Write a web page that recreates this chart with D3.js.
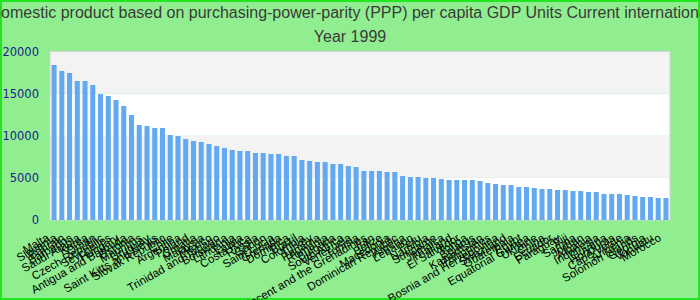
<!DOCTYPE html>
<html>
<head>
<meta charset="utf-8">
<script src="https://cdn.jsdelivr.net/npm/d3@7"></script>
<style>
  html, body { margin: 0; padding: 0; background: #90ee90; }
  svg { display: block; font-family: "Liberation Sans", Arial, sans-serif; }
</style>
</head>
<body>
<svg></svg>
<script>
// Chart data
const titleText = "Gross domestic product based on purchasing-power-parity (PPP) per capita GDP Units Current international dollar";
const subtitleText = "Year 1999";

const countries = [
  "Malta", "Slovenia", "Bahrain", "Barbados", "Saudi Arabia", "Korea", "Oman", "Czech Republic",
  "Seychelles", "Hungary", "Antigua and Barbuda", "Estonia", "Mauritius", "Uruguay",
  "Saint Kitts and Nevis", "Slovak Republic", "Chile", "Argentina", "Poland", "Croatia",
  "Malaysia", "Mexico", "Trinidad and Tobago", "Botswana", "Lithuania", "Latvia", "Costa Rica",
  "Russia", "Gabon", "Saint Lucia", "Grenada", "Dominica", "Brazil", "Colombia", "Turkey",
  "Panama", "Romania", "Bulgaria", "South Africa", "Venezuela", "Tunisia",
  "Saint Vincent and the Grenadines", "Iran", "Belize", "Macedonia", "Dominican Republic",
  "Algeria", "Lebanon", "Peru", "Namibia", "Suriname", "Jamaica", "Thailand", "El Salvador",
  "Tonga", "Belarus", "Kazakhstan", "Philippines", "Bosnia and Herzegovina", "Swaziland",
  "Guatemala", "Egypt", "Equatorial Guinea", "Ukraine", "China", "Ecuador", "Paraguay", "Fiji",
  "Samoa", "Jordan", "Albania", "Indonesia", "Guyana", "Honduras", "Cape Verde", "Armenia",
  "Solomon Islands", "Georgia", "Vanuatu", "Morocco"
];

const gdpValues = [
  18400, 17690, 17450, 16500, 16500, 16020, 14950, 14720, 14240, 13530,
  12460, 11280, 11160, 10920, 10920, 10090, 9970, 9610, 9380, 9260,
  9020, 8780, 8550, 8310, 8190, 8190, 7950, 7950, 7830, 7830,
  7600, 7600, 7120, 7000, 6880, 6880, 6650, 6650, 6410, 6290,
  5820, 5820, 5820, 5700, 5700, 5220, 5100, 5100, 4990, 4990,
  4870, 4750, 4750, 4750, 4750, 4630, 4390, 4270, 4150, 4150,
  3920, 3920, 3800, 3680, 3680, 3560, 3560, 3440, 3440, 3320,
  3320, 3090, 3090, 3090, 2970, 2850, 2730, 2730, 2610, 2610
];

const yTicks = [0, 5000, 10000, 15000, 20000];

const data = countries.map((name, i) => ({name, value: gdpValues[i]}));

// dimensions
const width = 700;
const height = 300;
const marginTop = 51.5;
const marginRight = 30;
const marginBottom = 80;
const marginLeft = 50;

const svg = d3.select("svg")
    .attr("width", width)
    .attr("height", height)
    .attr("viewBox", [0, 0, width, height]);

// green page frame
svg.append("rect")
    .attr("x", 1).attr("y", 1)
    .attr("width", width - 2).attr("height", height - 2)
    .attr("fill", "#90ee90")
    .attr("stroke", "#22e622")
    .attr("stroke-width", 2);

const x = d3.scaleBand()
    .domain(countries)
    .range([marginLeft, width - marginRight])
    .paddingInner(0.35)
    .paddingOuter(0.2);

const y = d3.scaleLinear()
    .domain([0, 20000])
    .range([height - marginBottom, marginTop]);

// alternating bands behind the bars
const bands = d3.pairs(yTicks);
svg.append("g")
  .selectAll()
  .data(bands)
  .join("rect")
    .attr("x", marginLeft)
    .attr("width", width - marginLeft - marginRight)
    .attr("y", d => y(d[1]))
    .attr("height", d => y(d[0]) - y(d[1]))
    .attr("fill", (d, i) => i % 2 ? "#f3f3f3" : "#ffffff");

// plot border
svg.append("rect")
    .attr("x", marginLeft)
    .attr("y", y(20000))
    .attr("width", width - marginLeft - marginRight)
    .attr("height", y(0) - y(20000))
    .attr("fill", "none")
    .attr("stroke", "#d4d4d4");

// bars
svg.append("g")
    .attr("fill", "#62a9f1")
  .selectAll()
  .data(data)
  .join("rect")
    .attr("x", d => x(d.name))
    .attr("width", x.bandwidth())
    .attr("y", d => y(d.value))
    .attr("height", d => y(0) - y(d.value));

// y axis
svg.append("g")
    .attr("transform", `translate(${marginLeft},0)`)
    .call(d3.axisLeft(y).tickValues(yTicks).tickFormat(d3.format("d")).tickSize(0).tickPadding(11))
    .call(g => g.select(".domain").remove())
    .call(g => g.selectAll("text")
        .attr("fill", "#1c1c8c")
        .attr("font-size", 11.5)
        .attr("font-family", "'DejaVu Sans', sans-serif"));

// x axis, rotated labels
svg.append("g")
    .attr("transform", `translate(0,${height - marginBottom})`)
    .call(d3.axisBottom(x).tickSize(0))
    .call(g => g.select(".domain").remove())
    .call(g => g.selectAll("text")
        .attr("x", 0).attr("y", 0).attr("dy", 0)
        .attr("transform", "translate(-4,20) rotate(-30)")
        .attr("text-anchor", "end")
        .attr("fill", "#000")
        .attr("font-size", 11.5)
        .attr("font-family", "'Liberation Sans', Arial, sans-serif"));

// titles
svg.append("text")
    .attr("x", width / 2)
    .attr("y", 18)
    .attr("text-anchor", "middle")
    .attr("fill", "#3a3a3a")
    .attr("font-size", 16)
    .text(titleText);

svg.append("text")
    .attr("x", width / 2)
    .attr("y", 42)
    .attr("text-anchor", "middle")
    .attr("fill", "#3a3a3a")
    .attr("font-size", 16)
    .text(subtitleText);
</script>
</body>
</html>
